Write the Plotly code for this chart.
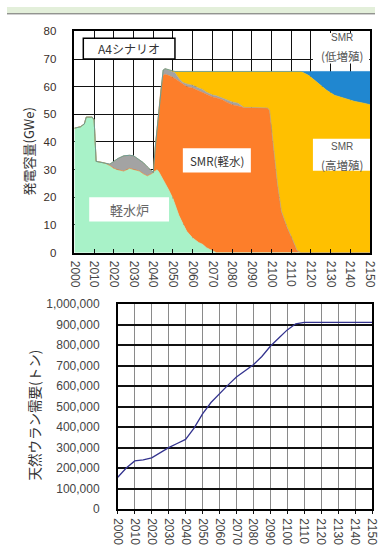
import plotly.graph_objects as go

# ---- generating capacity by reactor type (GWe), stacked ----
years = [2000, 2003, 2005, 2006, 2009, 2010, 2011, 2015, 2018, 2020, 2022, 2025,
         2028, 2030, 2033, 2035, 2037, 2039, 2040, 2041, 2042, 2043, 2044, 2045,
         2046, 2048, 2050, 2051, 2053, 2055, 2057, 2060, 2063, 2065, 2067, 2070,
         2072, 2075, 2077, 2080, 2083, 2085, 2086, 2090, 2095, 2098, 2099, 2100,
         2101, 2102, 2103, 2105, 2108, 2111, 2113, 2115, 2119, 2124, 2128, 2132,
         2137, 2142, 2147, 2150]

lwr = [45, 45.5, 46.5, 49, 49, 48, 33, 32.5, 31.5, 30.5, 30, 29.5,
       30.5, 30, 29.5, 28.5, 27.8, 28.5, 29, 29.5, 30, 29, 27.8, 26.5,
       25, 22.5, 19.5, 17.5, 13.5, 10.5, 7.7, 5.3, 3.7, 3, 1.8, 0.7,
       0, 0, 0, 0, 0, 0, 0, 0, 0, 0, 0, 0,
       0, 0, 0, 0, 0, 0, 0, 0, 0, 0, 0, 0,
       0, 0, 0, 0]

smr_lw = [0, 0, 0, 0, 0, 0, 0, 0, 0, 0, 0, 0,
          0, 0, 0, 0, 0, 0, 0, 8.5, 15, 24, 32.2, 37.5,
          39.5, 41.5, 44, 45.5, 48.5, 50.5, 52.3, 54.2, 54.8, 55, 55.5, 55.6,
          56, 55.3, 54.5, 53.5, 53, 52.5, 52.5, 52.5, 52.5, 52.3, 51.5, 45,
          38, 31, 25, 15, 9, 4.2, 0.7, 0, 0, 0, 0, 0,
          0, 0, 0, 0]

other = [0, 0, 0, 0, 0, 0, 0, 0, 0.5, 2.5, 4, 5.5,
         4.7, 5, 4, 4, 3.2, 1, 0, 0, 0, 0, 0, 2,
         2, 2, 1.8, 2, 1, 0.5, 1, 1, 1, 1, 0.7, 0.7,
         0.7, 0.5, 0.8, 1, 1, 0.5, 0, 0, 0, 0, 0, 0,
         0, 0, 0, 0, 0, 0, 0, 0, 0, 0, 0, 0,
         0, 0, 0, 0]

smr_fbr_high = [0, 0, 0, 0, 0, 0, 0, 0, 0, 0, 0, 0,
                0, 0, 0, 0, 0, 0, 0, 0, 0, 0, 0, 0,
                0, 0, 0.2, 0.5, 2.5, 4, 4.5, 5, 6, 6.5, 7.5, 8.5,
                8.8, 9.7, 10.2, 11, 11.5, 12.5, 13, 13, 13, 13.2, 14, 20.5,
                27.5, 34.5, 40.5, 50.5, 56.5, 61.3, 64.8, 65.5, 64, 61, 58.7, 56.9,
                55.8, 54.7, 54, 53.5]

smr_fbr_low = [0, 0, 0, 0, 0, 0, 0, 0, 0, 0, 0, 0,
               0, 0, 0, 0, 0, 0, 0, 0, 0, 0, 0, 0,
               0, 0, 0, 0, 0, 0, 0, 0, 0, 0, 0, 0,
               0, 0, 0, 0, 0, 0, 0, 0, 0, 0, 0, 0,
               0, 0, 0, 0, 0, 0, 0, 0, 1.5, 4.5, 6.8, 8.6,
               9.7, 10.8, 11.5, 12]

# ---- natural uranium demand (cumulative, tonnes) ----
u_years = [2000, 2005, 2010, 2015, 2020, 2025, 2030, 2035, 2040, 2045, 2050,
           2055, 2060, 2065, 2070, 2075, 2080, 2085, 2090, 2095, 2100, 2105,
           2110, 2150]
u_demand = [155000, 200000, 235000, 240000, 250000, 275000, 300000, 320000,
            340000, 395000, 465000, 520000, 565000, 605000, 645000, 675000,
            705000, 745000, 795000, 835000, 875000, 905000, 912000, 912000]

tick_years = list(range(2000, 2151, 10))
tick_text = [str(y) for y in tick_years]

W, H = 382, 554
NUM_FONT = "Liberation Sans, Arial, sans-serif"
JP_FONT = "Noto Sans CJK JP, sans-serif"

fig = go.Figure()

stack = [
    (lwr, "#a8f2c8"),
    (smr_lw, "#fd7e2a"),
    (other, "#a3a3a3"),
    (smr_fbr_high, "#ffc000"),
    (smr_fbr_low, "#2087d0"),
]
for vals, col in stack:
    fig.add_trace(go.Scatter(
        x=years, y=vals, mode="lines", stackgroup="cap",
        line=dict(width=0.6, color=col), fillcolor=col,
        hoverinfo="skip", xaxis="x", yaxis="y"))

fig.add_trace(go.Scatter(
    x=u_years, y=u_demand, mode="lines",
    line=dict(color="#34348f", width=1.3),
    xaxis="x2", yaxis="y2"))


def px_x(p):
    return p / W


def px_y(p):
    return 1 - p / H


common_x = dict(
    range=[2000, 2150.05], tickvals=tick_years, ticktext=tick_text, tickangle=90,
    tickfont=dict(family=NUM_FONT, size=12, color="#444"),
    ticklabeloverflow="allow",
    showline=True, linecolor="black", mirror=True, zeroline=False,
)

fig.update_layout(
    width=W, height=H, margin=dict(l=0, r=0, t=0, b=0),
    paper_bgcolor="white", plot_bgcolor="white", showlegend=False,
    xaxis=dict(domain=[px_x(70), px_x(377)], anchor="y",
               showgrid=True, gridcolor="#111", gridwidth=1, linewidth=1.5,
               ticks="inside", ticklen=4, tickcolor="#111",
               ticklabelstandoff=4, **common_x),
    yaxis=dict(domain=[px_y(252), px_y(25)], anchor="x", range=[0, 80],
               dtick=10, showgrid=True, gridcolor="#111", gridwidth=1,
               showline=True, linecolor="black", linewidth=1.5, mirror=True,
               zeroline=False, ticks="", ticklabelstandoff=14,
               tickfont=dict(family=NUM_FONT, size=11.5, color="#3a2e28")),
    xaxis2=dict(domain=[px_x(115), px_x(379)], anchor="y2",
                showgrid=True, gridcolor="#8a8a8a", gridwidth=1, linewidth=1.5,
                ticks="outside", ticklen=3, tickcolor="#111",
                ticklabelstandoff=2, **common_x),
    yaxis2=dict(domain=[px_y(515), px_y(305)], anchor="x2", range=[0, 1000000],
                dtick=100000, tickformat=",d", showgrid=True, gridcolor="#111",
                gridwidth=1.5, showline=True, linecolor="black", linewidth=1.5,
                mirror=True, zeroline=False, ticks="", ticklabelstandoff=14,
                tickfont=dict(family=NUM_FONT, size=12, color="#444")),
)

shapes = [
    # header band
    dict(type="rect", xref="paper", yref="paper", x0=0, x1=1, y0=px_y(7), y1=1,
         fillcolor="#e3efda", line=dict(width=0), layer="below"),
    dict(type="line", xref="paper", yref="paper", x0=0, x1=1,
         y0=px_y(7), y1=px_y(7), line=dict(color="#6a6a6a", width=1)),
    # scenario box
    dict(type="rect", xref="x", yref="y", x0=2004.5, x1=2051, y0=70, y1=77.5,
         fillcolor="white", line=dict(color="black", width=1.5), layer="above"),
    # white label backgrounds
    dict(type="rect", xref="x", yref="y", x0=2007.5, x1=2048, y0=11.3, y1=20,
         fillcolor="white", line=dict(width=0), layer="above"),
    dict(type="rect", xref="x", yref="y", x0=2055, x1=2089.5, y0=29, y1=37.7,
         fillcolor="white", line=dict(width=0), layer="above"),
    dict(type="rect", xref="x", yref="y", x0=2121, x1=2150, y0=29.6, y1=41.2,
         fillcolor="white", line=dict(width=0), layer="above"),
    dict(type="rect", xref="x", yref="y", x0=2121, x1=2149.5, y0=68.4, y1=79.4,
         fillcolor="white", line=dict(width=0), layer="above"),
]
fig.update_layout(shapes=shapes)

lab = dict(family=JP_FONT, size=11.5, color="#555")
annotations = [
    dict(x=2027.7, y=73.8, text="A4シナリオ", font=dict(family=JP_FONT, size=12, color="#333")),
    dict(x=2027.7, y=15.6, text="軽水炉", font=dict(family=JP_FONT, size=13, color="#666")),
    dict(x=2072.2, y=33.3, text="SMR(軽水)", font=dict(family=JP_FONT, size=11.5, color="#333")),
    dict(x=2135.8, y=38.4, text="SMR", font=dict(family=NUM_FONT, size=10, color="#555")),
    dict(x=2135.8, y=31.8, text="(高増殖)", font=lab),
    dict(x=2135.8, y=77.8, text="SMR", font=dict(family=NUM_FONT, size=10, color="#555")),
    dict(x=2135.8, y=71.2, text="(低増殖)", font=lab),
]
for a in annotations:
    a.update(xref="x", yref="y", showarrow=False, xanchor="center", yanchor="middle")

annotations += [
    dict(xref="paper", yref="paper", x=px_x(22), y=px_y(148), text="発電容量(GWe)",
         textangle=-90, showarrow=False, xanchor="center", yanchor="middle",
         font=dict(family=JP_FONT, size=13, color="#333")),
    dict(xref="paper", yref="paper", x=px_x(28), y=px_y(418), text="天然ウラン需要(トン)",
         textangle=-90, showarrow=False, xanchor="center", yanchor="middle",
         font=dict(family=JP_FONT, size=13.5, color="#333")),
]
fig.update_layout(annotations=annotations)

fig.write_html("out.html")
